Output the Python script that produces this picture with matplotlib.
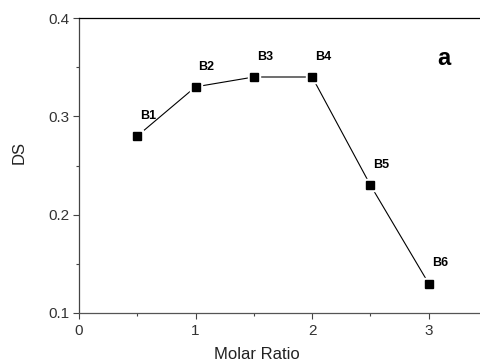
import matplotlib.pyplot as plt
from matplotlib.ticker import MultipleLocator

plt.rcParams['font.family'] = ['Liberation Sans', 'DejaVu Sans']

# Données
molar_ratio = [0.5, 1.0, 1.5, 2.0, 2.5, 3.0]
ds = [0.28, 0.33, 0.34, 0.34, 0.23, 0.13]
noms = ['B1', 'B2', 'B3', 'B4', 'B5', 'B6']

fig = plt.figure(figsize=(4.81, 3.64), dpi=100)
# l'axe x va jusqu'à 3.5, un peu au-delà du bord de la figure
ax = fig.add_axes([79 / 481, 51 / 364, 408 / 481, 295 / 364])

# ligne puis carrés (halo blanc pour l'écart style Origin)
ax.plot(molar_ratio, ds, color='black', linewidth=0.8, zorder=2)
ax.plot(molar_ratio, ds, linestyle='none', marker='s', markersize=8,
        color='white', zorder=3)
ax.plot(molar_ratio, ds, linestyle='none', marker='s', markersize=6,
        color='black', zorder=4)

for x, y, nom in zip(molar_ratio, ds, noms):
    ax.annotate(nom, (x, y), xytext=(3, 20), textcoords='offset pixels',
                ha='left', va='center', fontsize=9, fontweight='bold')

ax.text(3.13, 0.359, 'a', fontsize=17, fontweight='bold', ha='center', va='center')

ax.set_xlim(0, 3.5)
ax.set_ylim(0.1, 0.4)
ax.xaxis.set_minor_locator(MultipleLocator(0.5))
ax.yaxis.set_minor_locator(MultipleLocator(0.05))
ax.set_xticks([0, 1, 2, 3])
ax.set_xticklabels(['0', '1', '2', '3'])
ax.set_yticks([0.1, 0.2, 0.3, 0.4])
ax.set_yticklabels(['0.1', '0.2', '0.3', '0.4'])

ax.tick_params(which='major', direction='out', length=4, width=0.8,
               labelsize=11, labelcolor='#333333', color='#444444', pad=3)
ax.tick_params(which='minor', direction='out', length=2, width=0.8, color='#444444')
ax.tick_params(axis='x', pad=4)

ax.spines['right'].set_visible(False)
ax.spines['top'].set_color('black')
ax.spines['left'].set_color('#444444')
ax.spines['bottom'].set_color('#555555')
for s in ax.spines.values():
    s.set_linewidth(0.9)

ax.set_ylabel('DS', fontsize=12, color='#222222')
ax.yaxis.set_label_coords(-(79 - 27) / 408, (313 - 152) / 295)
fig.text(257 / 481, (364 - 347) / 364, 'Molar Ratio', fontsize=12,
         color='#222222', ha='center', va='top')

fig.savefig('out.png', dpi=100)
